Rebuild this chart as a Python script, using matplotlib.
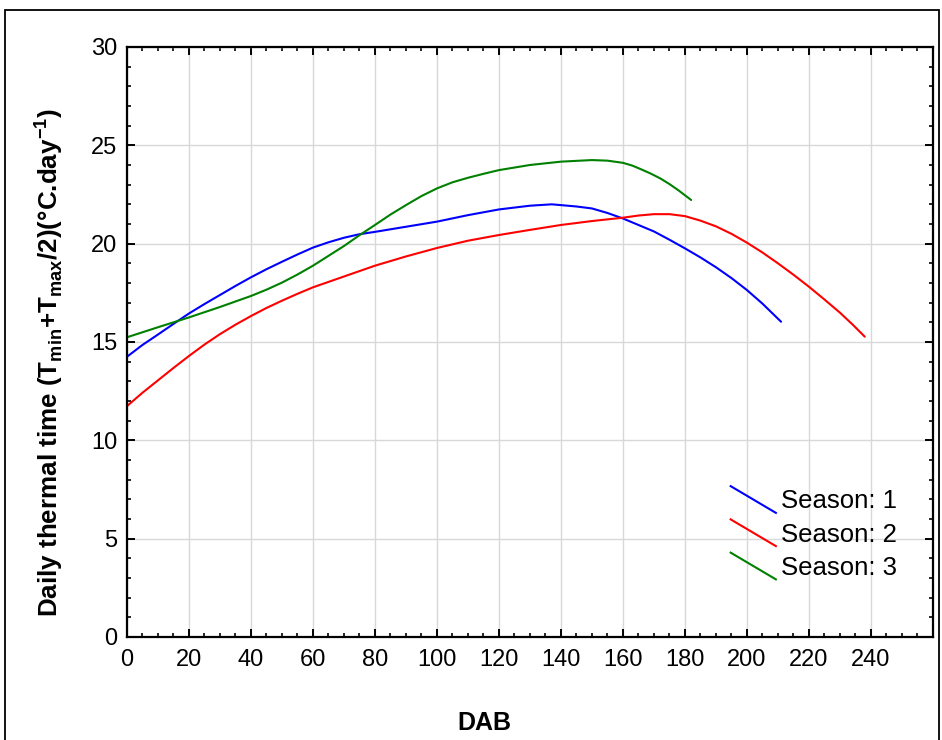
import matplotlib
matplotlib.use("Agg")
import matplotlib.pyplot as plt
from matplotlib.lines import Line2D
from matplotlib.patches import Rectangle
from matplotlib.legend_handler import HandlerLine2D
from matplotlib.ticker import MultipleLocator

plt.rcParams['font.family'] = ['Liberation Sans', 'DejaVu Sans']
plt.rcParams['mathtext.fontset'] = 'custom'
plt.rcParams['mathtext.rm'] = 'Liberation Sans'
plt.rcParams['mathtext.bf'] = 'Liberation Sans:bold'

# values (DAB vs daily thermal time)
dab_s1 = [0, 5, 10, 15, 20, 25, 30, 35, 40, 45, 50, 55, 60, 65, 70, 75, 80,
          90, 100, 110, 120, 130, 137, 140, 145, 150, 155, 160, 165, 170, 175,
          180, 185, 190, 195, 200, 205, 211]
tt_s1 = [14.25, 14.85, 15.38, 15.92, 16.45, 16.93, 17.39, 17.85, 18.29, 18.7,
         19.08, 19.45, 19.8, 20.07, 20.3, 20.48, 20.6, 20.86, 21.12, 21.45,
         21.74, 21.93, 22.0, 21.96, 21.89, 21.79, 21.56, 21.28, 20.95, 20.62,
         20.2, 19.76, 19.3, 18.8, 18.25, 17.64, 16.95, 16.03]

dab_s2 = [0, 5, 10, 15, 20, 25, 30, 35, 40, 45, 50, 55, 60, 70, 80, 90, 100,
          110, 120, 130, 140, 150, 160, 165, 170, 175, 180, 185, 190, 195, 200,
          205, 210, 215, 220, 225, 230, 234, 238]
tt_s2 = [11.74, 12.42, 13.05, 13.68, 14.29, 14.87, 15.4, 15.88, 16.32, 16.73,
         17.1, 17.45, 17.78, 18.33, 18.88, 19.35, 19.78, 20.15, 20.44, 20.7,
         20.95, 21.15, 21.32, 21.43, 21.5, 21.5, 21.4, 21.17, 20.88, 20.5,
         20.05, 19.55, 19.0, 18.42, 17.81, 17.16, 16.49, 15.9, 15.27]

dab_s3 = [0, 10, 20, 30, 40, 45, 50, 55, 60, 65, 70, 75, 80, 85, 90, 95, 100,
          105, 110, 115, 120, 130, 140, 150, 155, 160, 163, 166, 169, 172, 175,
          178, 182]
tt_s3 = [15.24, 15.75, 16.25, 16.78, 17.34, 17.66, 18.02, 18.43, 18.88, 19.38,
         19.88, 20.43, 20.95, 21.48, 21.96, 22.42, 22.81, 23.12, 23.35, 23.55,
         23.74, 24.0, 24.17, 24.25, 24.22, 24.11, 23.97, 23.77, 23.56, 23.32,
         23.03, 22.7, 22.22]

labels = ['Season: 1', 'Season: 2', 'Season: 3']
colors = ['#0000ff', '#ff0000', '#008000']


class DiagonalHandler(HandlerLine2D):
    # legend sample drawn as a short falling diagonal, like the original
    def create_artists(self, legend, orig_handle, xdescent, ydescent,
                       width, height, fontsize, trans):
        cy = height / 2 - ydescent
        half = 0.52 * fontsize
        ln = Line2D([-xdescent, -xdescent + width], [cy + half, cy - half],
                    color=orig_handle.get_color(), lw=orig_handle.get_linewidth())
        ln.set_transform(trans)
        return [ln]


fig = plt.figure(figsize=(9.42, 7.4), dpi=100)
ax = fig.add_axes([0.1348, 0.1392, 0.8556, 0.7973])

lines = []
for x, y, c in zip([dab_s1, dab_s2, dab_s3], [tt_s1, tt_s2, tt_s3], colors):
    l, = ax.plot(x, y, color=c, lw=1.5, solid_capstyle='round',
                 solid_joinstyle='round')
    lines.append(l)

ax.set_xlim(0, 260)
ax.set_ylim(0, 30)
ax.set_xticks(range(0, 260, 20))
ax.xaxis.set_minor_locator(MultipleLocator(5))
ax.yaxis.set_major_locator(MultipleLocator(5))
ax.yaxis.set_minor_locator(MultipleLocator(1))
ax.grid(True, which='major', color='#d8d8d8', lw=1.0)
ax.set_axisbelow(True)

for s in ax.spines.values():
    s.set_linewidth(1.6)
ax.tick_params(which='both', direction='in', top=True, right=True,
               labelsize=17, colors='black')
ax.tick_params(which='major', length=6, width=1.4)
ax.tick_params(which='minor', length=3, width=1.2)
ax.tick_params(axis='x', pad=9)
ax.tick_params(axis='y', pad=7)

ax.set_xlabel('DAB', fontsize=18, fontweight='bold')
ax.xaxis.set_label_coords(0.444, -0.125)
ax.set_ylabel(r'Daily thermal time (T$_{\mathbf{min}}$+T$_{\mathbf{max}}$/2)(°C.day$^{\mathbf{-1}}$)',
              fontsize=18.7, fontweight='bold')
ax.yaxis.set_label_coords(-0.077, 0.466)

ax.legend(lines, labels, loc='upper left', bbox_to_anchor=(0.749, 0.25),
          frameon=False, fontsize=18.5, handlelength=1.76, handletextpad=0.2,
          borderpad=0, borderaxespad=0, labelspacing=0.36,
          handler_map={Line2D: DiagonalHandler()})

fig.patches.append(Rectangle((0.0053, -0.02), 0.9915, 1.0065, fill=False,
                             edgecolor='black', lw=1.3, transform=fig.transFigure))

fig.savefig('out.png', dpi=100)
